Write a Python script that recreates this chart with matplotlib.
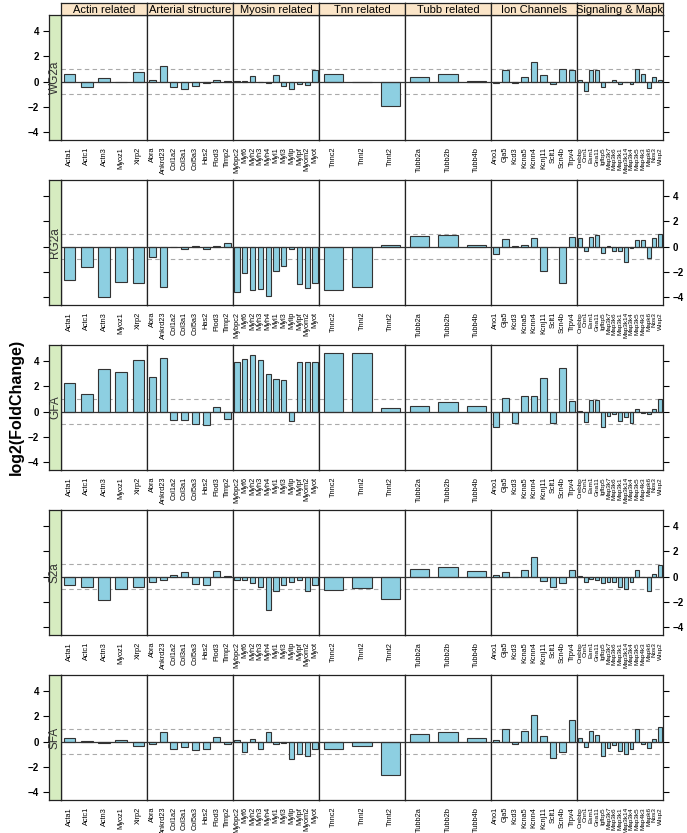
"""
log2 fold change of muscle genes, lattice-style barchart grid.
"""

import matplotlib
matplotlib.use("Agg")
import matplotlib.pyplot as plt
import numpy as np

plt.rcParams["font.family"] = ["Liberation Sans", "DejaVu Sans"]

# ── Palette ──
BAR_COLOR    = "#8DCFE1"
EDGE_COLOR   = "#333333"
TOP_STRIP    = "#FBE5C8"
LEFT_STRIP   = "#D6ECC0"
REF_DASH     = "#AAAAAA"

# ── Data ──
CATEGORIES = ["Actin related", "Arterial structure", "Myosin related",
              "Tnn related", "Tubb related", "Ion Channels", "Signaling & Mapk"]

ACTIN    = ["Acta1", "Actc1", "Actn3", "Myoz1", "Xirp2"]
ARTERIAL = ["Abra", "Ankrd23", "Col1a2", "Col3a1", "Col5a3", "Has2", "Plod3", "Timp2"]
MYOSIN   = ["Mybpc2", "Myf6", "Myh2", "Myh3", "Myh4", "Myl1", "Myl3", "Mylip",
            "Mylpf", "Myom2", "Myot"]
TNN      = ["Tnnc2", "Tnni2", "Tnnt2"]
TUBB     = ["Tubb2a", "Tubb2b", "Tubb4b"]
ION      = ["Ano1", "Gja5", "Kcd3", "Kcna5", "Kcnn4", "Kcnj11", "Sclt1", "Scn4b", "Trpv4"]
SIGNAL   = ["Crebbp", "Cnn1", "Esm1", "Gna11", "Igfbp5", "Map3k7", "Map3k6", "Map3k1",
            "Map3k14", "Map3k4", "Map3k5", "Map4k3", "Mapk6", "Nos3", "Wisp2"]
GENES = [ACTIN, ARTERIAL, MYOSIN, TNN, TUBB, ION, SIGNAL]

SAMPLES = ["WG2a", "RG2a", "GFA", "S2a", "SFA"]

WG2A = [0.6, -0.45, 0.32, -0.05, 0.75,
        0.12, 1.2, -0.45, -0.6, -0.35, -0.08, 0.1, 0.02,
        0.03, 0.03, 0.42, 0.0, -0.1, 0.5, -0.35, -0.6, -0.2, -0.28, 0.9,
        0.62, -0.03, -1.9,
        0.35, 0.6, 0.02,
        -0.1, 0.9, -0.08, 0.4, 1.55, 0.5, -0.2, 1.0, 0.9,
        0.1, -0.7, 0.95, 0.95, -0.45, 0.0, 0.15, -0.2, 0.0, -0.2, 1.0, 0.6, -0.5, 0.35, 0.12]

RG2A = [-2.65, -1.6, -4.0, -2.8, -2.9,
        -0.85, -3.2, 0.0, -0.2, 0.02, -0.18, 0.05, 0.3,
        -3.6, -2.1, -3.45, -3.35, -3.9, -1.9, -1.55, -0.18, -2.95, -3.25, -2.85,
        -3.45, -3.2, 0.13,
        0.82, 0.92, 0.1,
        -0.58, 0.58, 0.03, 0.12, 0.68, -1.9, 0.0, -2.9, 0.75,
        0.7, -0.35, 0.8, 0.9, -0.5, 0.05, -0.35, -0.35, -1.2, -0.1, 0.55, 0.55, -0.9, 0.7, 1.0]

GFA = [2.27, 1.4, 3.37, 3.16, 4.1,
       2.76, 4.26, -0.63, -0.66, -0.95, -1.08, 0.4, -0.58,
       3.9, 4.2, 4.45, 4.05, 2.97, 2.58, 2.5, -0.71, 3.95, 3.95, 3.9,
       4.66, 4.6, 0.3,
       0.47, 0.76, 0.45,
       -1.2, 1.08, -0.87, 1.24, 1.21, 2.63, -0.9, 3.47, 0.82,
       0.07, -0.79, 0.95, 0.9, -1.24, -0.35, -0.2, -0.7, -0.4, -0.9, 0.25, -0.1, -0.15, 0.25, 1.0]

S2A = [-0.68, -0.84, -1.82, -0.97, -0.82,
       -0.4, -0.24, 0.13, 0.4, -0.55, -0.66, 0.45, 0.03,
       -0.26, -0.26, -0.5, -0.82, -2.63, -1.1, -0.63, -0.42, -0.26, -1.1, -0.63,
       -1.08, -0.92, -1.74,
       0.6, 0.76, 0.45,
       0.1, 0.37, 0.0, 0.55, 1.55, -0.32, -0.84, -0.47, 0.55,
       0.02, -0.4, -0.15, -0.25, -0.5, -0.45, -0.4, -0.8, -0.95, -0.45, 0.5, 0.0, -1.1, 0.2, 0.95]

SFA = [0.3, 0.05, -0.1, 0.1, -0.35,
       -0.2, 0.8, -0.6, -0.45, -0.65, -0.55, 0.4, -0.2,
       0.1, -0.85, 0.2, -0.55, 0.8, -0.2, -0.1, -1.35, -0.95, -1.1, -0.55,
       -0.6, -0.35, -2.6,
       0.6, 0.8, 0.3,
       0.15, 1.0, -0.15, 0.85, 2.1, 0.45, -1.3, -0.8, 1.75,
       0.3, -0.4, 0.85, 0.55, -1.1, -0.5, -0.3, -0.7, -1.0, -0.6, 1.0, -0.2, -0.5, 0.25, 1.15]

VALUES = [WG2A, RG2A, GFA, S2A, SFA]
YTICKS = [-4, -2, 0, 2, 4]

# ── Layout (pixels) ──
W, H = 687, 833
X0, PW = 61, 86          # first panel left, panel width
Y0, PH, ROW = 15, 125, 165
STRIP = 12
YLIM = (-4.61, 5.27)


def px_axes(fig, x, y, w, h):
    return fig.add_axes([x / W, 1 - (y + h) / H, w / W, h / H])


fig = plt.figure(figsize=(W / 100, H / 100), dpi=100)
fig.patch.set_facecolor("white")

starts = np.cumsum([0] + [len(g) for g in GENES])

for r, (sample, vals) in enumerate(zip(SAMPLES, VALUES)):
    top = Y0 + r * ROW
    for c, (cat, genes) in enumerate(zip(CATEGORIES, GENES)):
        ax = px_axes(fig, X0 + c * PW, top, PW, PH)
        v = vals[starts[c]:starts[c + 1]]
        x = np.arange(len(genes))
        ax.axhline(1, color=REF_DASH, ls=(0, (4, 3)), lw=0.8, zorder=1)
        ax.axhline(-1, color=REF_DASH, ls=(0, (4, 3)), lw=0.8, zorder=1)
        ax.bar(x, v, width=0.67, color=BAR_COLOR, edgecolor=EDGE_COLOR,
               linewidth=0.8, zorder=2)
        ax.axhline(0, color=EDGE_COLOR, lw=0.9, zorder=3)
        ax.set_xlim(-0.5, len(genes) - 0.5)
        ax.set_ylim(*YLIM)
        ax.set_xticks(x)
        fs = 4.6 if len(genes) > 12 else 5.3
        ax.set_xticklabels(genes, rotation=90, fontsize=fs)
        ax.tick_params(axis="x", length=0, pad=5)
        for s in ax.spines.values():
            s.set_color("#222222")
            s.set_linewidth(0.9)

        if c == len(CATEGORIES) - 1:
            ax.yaxis.tick_right()
            ax.set_yticks(YTICKS)
            ax.tick_params(axis="y", direction="out", length=4, width=0.8,
                           labelsize=7, pad=3)
            if r % 2 == 1:
                for lbl in ax.get_yticklabels():
                    lbl.set_fontweight("bold")
            else:
                ax.set_yticklabels([])
        else:
            ax.set_yticks([])

        # top strip on first row
        if r == 0:
            sx = px_axes(fig, X0 + c * PW, top - STRIP, PW, STRIP)
            sx.set_facecolor(TOP_STRIP)
            sx.set_xticks([]); sx.set_yticks([])
            for s in sx.spines.values():
                s.set_color("#222222"); s.set_linewidth(0.9)
            sx.text(0.5, 0.45, cat, ha="center", va="center", fontsize=8,
                    transform=sx.transAxes)

    # left strip with y axis
    lx = px_axes(fig, X0 - STRIP, top, STRIP, PH)
    lx.set_facecolor(LEFT_STRIP)
    lx.set_ylim(*YLIM)
    lx.set_xticks([])
    lx.set_yticks(YTICKS)
    lx.tick_params(axis="y", direction="out", length=4, width=0.8,
                   labelsize=7, pad=3)
    if r % 2 == 0:
        for lbl in lx.get_yticklabels():
            lbl.set_fontweight("bold")
    else:
        lx.set_yticklabels([])
    for s in lx.spines.values():
        s.set_color("#222222"); s.set_linewidth(0.9)
    lx.text(0.5, 0.5, sample, rotation=90, ha="center", va="center",
            fontsize=8.5, color="#333333", transform=lx.transAxes)

fig.text(16 / W, 1 - 407 / H, "log2(FoldChange)", rotation=90,
         ha="center", va="center", fontsize=11.5, fontweight="bold")

fig.savefig("out.png", dpi=100, facecolor="white")
